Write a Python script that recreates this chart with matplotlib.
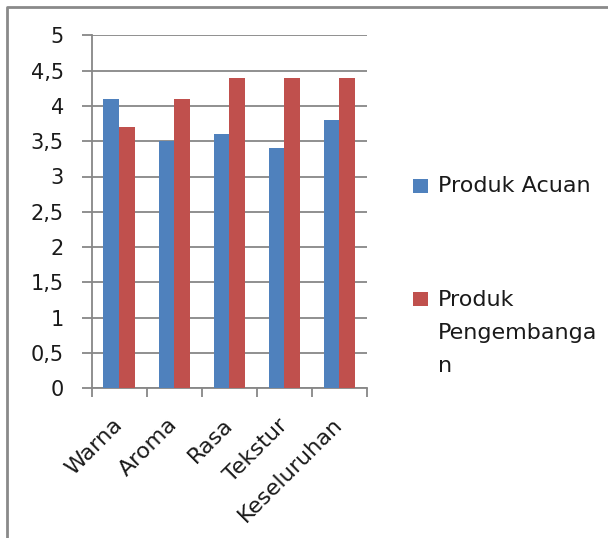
import matplotlib
matplotlib.use("Agg")
import matplotlib.pyplot as plt
import numpy as np
from matplotlib.lines import Line2D
from matplotlib.patches import Rectangle

# Data
categories = ["Warna", "Aroma", "Rasa", "Tekstur", "Keseluruhan"]
series_names = ["Produk Acuan", "Produk Pengembangan"]
acuan = [4.1, 3.5, 3.6, 3.4, 3.8]
pengembangan = [3.7, 4.1, 4.4, 4.4, 4.4]
y_ticks = [0, 0.5, 1, 1.5, 2, 2.5, 3, 3.5, 4, 4.5, 5]
y_tick_labels = ["0", "0,5", "1", "1,5", "2", "2,5", "3", "3,5", "4", "4,5", "5"]

BLUE = "#4F81BD"
RED = "#C0504D"
GRID = "#878787"
TEXT = "#1a1a1a"
FONT = "DejaVu Sans"

plt.rcParams["font.family"] = [FONT]

W, H = 608, 538
fig = plt.figure(figsize=(W / 100, H / 100), dpi=100)
fig.patch.set_facecolor("white")

ax = fig.add_axes([91.7 / W, 1 - 388.3 / H, (367 - 91.7) / W, (388.3 - 35.3) / H])

x = np.arange(len(categories))
bw = 1 / 3.5
ax.bar(x - bw / 2, acuan, width=bw, color=BLUE, zorder=3, linewidth=0)
ax.bar(x + bw / 2, pengembangan, width=bw, color=RED, zorder=3, linewidth=0)

ax.set_xlim(-0.5, len(categories) - 0.5)
ax.set_ylim(0, 5)

ax.set_yticks(y_ticks)
ax.set_yticklabels(y_tick_labels, fontsize=15, color=TEXT)
ax.yaxis.grid(True, color=GRID, linewidth=1.3, zorder=0)
ax.tick_params(axis="y", length=7, width=1.3, color=GRID, pad=13)

ax.set_xticks(x)
ax.set_xticklabels(categories, fontsize=16, color=TEXT,
                   rotation=45, ha="right", va="center", rotation_mode="anchor")
ax.set_xticks(np.arange(-0.5, len(categories)), minor=True)
ax.tick_params(axis="x", which="major", length=0, pad=24)
ax.tick_params(axis="x", which="minor", length=6.5, width=1.3, color=GRID)

for s in ["top", "right"]:
    ax.spines[s].set_visible(False)
for s in ["left", "bottom"]:
    ax.spines[s].set_color(GRID)
    ax.spines[s].set_linewidth(1.3)
ax.set_axisbelow(True)

# Legend drawn beside the plot area
def fx(px):
    return px / W

def fy(py):
    return 1 - py / H

legend_items = [
    # colour, label lines, square top, first-line baseline
    (BLUE, [series_names[0]], 179, 192.5),
    (RED, ["Produk", "Pengembanga", "n"], 292, 306.5),
]
LINE_STEP = 32.5
for color, lines, top, base in legend_items:
    fig.add_artist(Rectangle((fx(413), fy(top + 14)), 15 / W, 14 / H,
                             transform=fig.transFigure, color=color, linewidth=0))
    for i, line in enumerate(lines):
        fig.text(fx(438), fy(base + i * LINE_STEP), line, fontsize=16, color=TEXT,
                 ha="left", va="baseline")

# Chart frame
fig.add_artist(Line2D([fx(7), fx(7), fx(W + 5)], [fy(H + 5), fy(7), fy(7)],
                      transform=fig.transFigure, color="#8a8a8a", linewidth=2))

fig.savefig("out.png", dpi=100, facecolor="white")
